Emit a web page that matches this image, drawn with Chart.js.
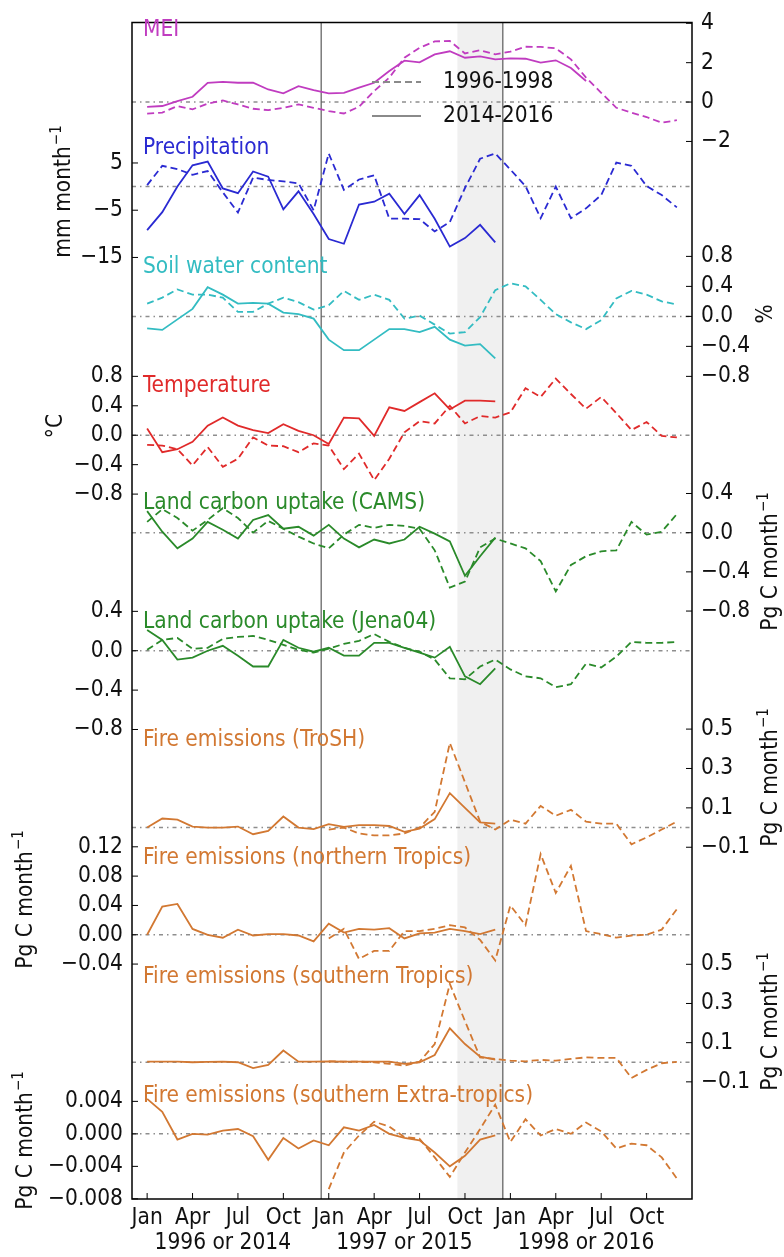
<!DOCTYPE html>
<html>
<head>
<meta charset="utf-8">
<script src="https://cdn.jsdelivr.net/npm/chart.js@4.4.1/dist/chart.umd.min.js"></script>
<style>html,body{margin:0;padding:0;background:#fff}</style>
</head>
<body>
<canvas id="chart" width="784" height="1257"></canvas>
<script>
// x axis: month index 0..35 (Jan of first year .. Dec of third year)
const xTickPos = [0, 3, 6, 9, 12, 15, 18, 21, 24, 27, 30, 33];
const xTickLabels = ['Jan', 'Apr', 'Jul', 'Oct', 'Jan', 'Apr', 'Jul', 'Oct', 'Jan', 'Apr', 'Jul', 'Oct'];
const yearLabels = ['1996 or 2014', '1997 or 2015', '1998 or 2016'];
const yearLabelPos = [5, 17, 29];
const yearBreaks = [11.5, 23.5];
const shadeFrom = 20.5, shadeTo = 23.5;
const _ = null;

// dashed = 1996-1998, solid = 2014-2016
const meiDashed = [-0.59, -0.54, -0.2, -0.37, -0.08, 0.08, -0.12, -0.34, -0.41, -0.29, -0.12, -0.29, -0.46, -0.58, -0.24, 0.56, 1.24, 2.25, 2.76, 3.08, 3.1, 2.47, 2.63, 2.42, 2.56, 2.81, 2.8, 2.73, 2.17, 1.24, 0.47, -0.29, -0.54, -0.76, -1.05, -0.92];
const meiSolid = [-0.24, -0.2, 0.05, 0.27, 0.98, 1.02, 0.98, 0.98, 0.64, 0.44, 0.81, 0.61, 0.44, 0.47, 0.73, 0.98, 1.58, 2.1, 2.02, 2.42, 2.58, 2.25, 2.32, 2.17, 2.22, 2.2, 2.0, 2.12, 1.73, 1.07];

const precipDashed = [0.3, 4.4, 3.7, 2.5, 3.3, -1.2, -5.5, 1.9, 1.4, 1.1, 0.7, -5.0, 7.0, -0.7, 1.5, 2.4, -6.8, -6.8, -6.9, -9.5, -7.5, -0.3, 5.9, 7.0, 3.6, 0.1, -6.7, 0.0, -6.7, -4.6, -1.8, 5.1, 4.4, 0.1, -1.8, -4.4];
const precipSolid = [-9.2, -5.4, 0.0, 4.5, 5.3, -0.4, -1.4, 3.2, 2.1, -4.8, -1.0, -5.8, -11.1, -12.1, -3.8, -3.2, -1.5, -5.8, -1.8, -6.8, -12.7, -10.9, -8.1, -11.8];

const soilDashed = [0.17, 0.25, 0.36, 0.29, 0.29, 0.25, 0.06, 0.06, 0.17, 0.25, 0.19, 0.09, 0.15, 0.34, 0.22, 0.29, 0.22, -0.03, 0.01, -0.11, -0.23, -0.21, -0.01, 0.35, 0.44, 0.4, 0.22, 0.03, -0.08, -0.17, -0.05, 0.24, 0.34, 0.29, 0.2, 0.16];
const soilSolid = [-0.16, -0.18, -0.04, 0.1, 0.39, 0.29, 0.17, 0.18, 0.17, 0.05, 0.03, -0.03, -0.31, -0.45, -0.45, -0.31, -0.17, -0.17, -0.21, -0.14, -0.31, -0.39, -0.37, -0.56];

const tempDashed = [-0.13, -0.14, -0.19, -0.41, -0.16, -0.43, -0.32, -0.03, -0.14, -0.15, -0.23, -0.11, -0.14, -0.46, -0.25, -0.61, -0.32, 0.04, 0.19, 0.16, 0.4, 0.16, 0.26, 0.24, 0.31, 0.64, 0.52, 0.77, 0.56, 0.36, 0.52, 0.3, 0.07, 0.18, -0.01, -0.03];
const tempSolid = [0.09, -0.23, -0.19, -0.09, 0.13, 0.24, 0.13, 0.07, 0.03, 0.15, 0.06, 0.0, -0.12, 0.24, 0.23, -0.01, 0.38, 0.33, 0.45, 0.57, 0.35, 0.47, 0.47, 0.46];

const camsDashed = [0.11, 0.24, 0.15, 0.02, 0.13, 0.25, 0.15, 0.0, 0.12, 0.04, -0.04, -0.11, -0.16, -0.02, 0.08, 0.05, 0.08, 0.07, 0.04, -0.18, -0.56, -0.5, -0.15, -0.06, -0.11, -0.16, -0.29, -0.6, -0.33, -0.24, -0.19, -0.18, 0.11, -0.02, 0.01, 0.19];
const camsSolid = [0.22, 0.01, -0.16, -0.06, 0.11, 0.03, -0.06, 0.13, 0.18, 0.04, 0.06, -0.03, 0.08, -0.06, -0.15, -0.07, -0.11, -0.07, 0.06, -0.01, -0.09, -0.44, -0.24, -0.05];

const jenaDashed = [0.01, 0.11, 0.13, 0.02, 0.03, 0.12, 0.14, 0.15, 0.11, 0.06, 0.01, -0.02, 0.02, 0.07, 0.1, 0.17, 0.09, 0.03, -0.01, -0.09, -0.28, -0.29, -0.16, -0.09, -0.19, -0.26, -0.28, -0.37, -0.34, -0.13, -0.17, -0.06, 0.09, 0.08, 0.08, 0.09];
const jenaSolid = [0.21, 0.11, -0.09, -0.07, 0.0, 0.05, -0.05, -0.16, -0.16, 0.11, 0.03, -0.01, 0.03, -0.05, -0.05, 0.08, 0.08, 0.03, -0.02, -0.07, 0.04, -0.26, -0.34, -0.18];

const troshDashed = [_, _, _, _, _, _, _, _, _, _, _, _, -0.01, 0.0, -0.03, -0.04, -0.04, -0.03, 0.0, 0.08, 0.43, 0.23, 0.03, -0.01, 0.04, 0.02, 0.11, 0.06, 0.09, 0.03, 0.02, 0.02, -0.085, -0.05, -0.01, 0.03];
const troshSolid = [0.0, 0.046, 0.04, 0.005, 0.0, 0.0, 0.005, -0.034, -0.017, 0.056, 0.0, -0.008, 0.017, 0.003, 0.012, 0.012, 0.008, -0.022, -0.005, 0.043, 0.175, 0.1, 0.026, 0.02];

const northDashed = [_, _, _, _, _, _, _, _, _, _, _, _, -0.005, 0.008, -0.033, -0.022, -0.022, 0.005, 0.005, 0.008, 0.013, 0.01, -0.007, -0.035, 0.04, 0.013, 0.11, 0.057, 0.094, 0.005, 0.001, -0.004, -0.001, 0.0, 0.007, 0.035];
const northSolid = [0.0, 0.0385, 0.042, 0.008, 0.0, -0.004, 0.007, -0.001, 0.001, 0.001, -0.001, -0.009, 0.015, 0.003, 0.008, 0.007, 0.009, -0.005, 0.002, 0.003, 0.008, 0.005, 0.001, 0.007];

const southDashed = [_, _, _, _, _, _, _, _, _, _, _, _, 0.005, 0.003, 0.003, 0.0, -0.008, -0.017, 0.003, 0.093, 0.4, 0.21, 0.025, 0.017, 0.008, 0.005, 0.012, 0.008, 0.017, 0.025, 0.022, 0.022, -0.08, -0.039, -0.005, 0.002];
const southSolid = [0.003, 0.003, 0.003, 0.0, 0.002, 0.003, 0.0, -0.03, -0.014, 0.06, 0.003, 0.003, 0.005, 0.003, 0.003, 0.003, 0.003, -0.008, 0.0, 0.037, 0.173, 0.093, 0.029, 0.014];

const extraDashed = [_, _, _, _, _, _, _, _, _, _, _, _, -0.0068, -0.0023, -0.0002, 0.0015, 0.0009, -0.0004, -0.0006, -0.0029, -0.0053, -0.0023, 0.0006, 0.0036, -0.001, 0.0018, -0.0002, 0.0006, 0.0, 0.0014, 0.0003, -0.0018, -0.0012, -0.0014, -0.0029, -0.0055];
const extraSolid = [0.0043, 0.0027, -0.0007, 0.0, -0.0001, 0.0004, 0.0006, -0.0003, -0.0032, -0.0005, -0.0018, -0.0008, -0.0014, 0.0008, 0.0004, 0.0011, 0.0, -0.0005, -0.0008, -0.0023, -0.004, -0.0027, -0.0007, -0.0002];

// tick values per panel axis
const meiTicks = [4, 2, 0, -2];
const precipTicks = [5, -5, -15];
const soilTicks = [0.8, 0.4, 0.0, -0.4, -0.8];
const tempTicks = [0.8, 0.4, 0.0, -0.4, -0.8];
const camsTicks = [0.4, 0.0, -0.4, -0.8];
const jenaTicks = [0.4, 0.0, -0.4, -0.8];
const troshTicks = [0.5, 0.3, 0.1, -0.1];
const northTicks = [0.12, 0.08, 0.04, 0.0, -0.04];
const southTicks = [0.5, 0.3, 0.1, -0.1];
const extraTicks = [0.004, 0.0, -0.004, -0.008];

const TOP = 16;
const FONT = "'DejaVu Sans Condensed', 'DejaVu Sans', sans-serif";
const FS = 22.5;

// each axis gets a vertical slice [top, bottom] of its side's stack;
// zero: pixel row of the 0 line, ppu: pixels per unit
const panels = [
  {id: 'yMEI', side: 'right', top: 16, bottom: 200, zero: 96, ppu: 19.8, ticks: meiTicks, dec: 0, color: '#c03cc0', label: 'MEI', labelY: 36, dashed: meiDashed, solid: meiSolid},
  {id: 'yPre', side: 'left', top: 16, bottom: 310, zero: 181, ppu: 4.75, ticks: precipTicks, dec: 0, color: '#2a2ad2', label: 'Precipitation', labelY: 154, dashed: precipDashed, solid: precipSolid,
    title: ['mm month', '\u22121'], titleX: 70, titleY: 192},
  {id: 'ySoil', side: 'right', top: 200, bottom: 440, zero: 311.5, ppu: 75.4, ticks: soilTicks, dec: 1, color: '#33bcc2', label: 'Soil water content', labelY: 273, dashed: soilDashed, solid: soilSolid,
    title: ['%', ''], titleX: 772, titleY: 314},
  {id: 'yTemp', side: 'left', top: 310, bottom: 545, zero: 431, ppu: 74, ticks: tempTicks, dec: 1, color: '#e02a2a', label: 'Temperature', labelY: 392, dashed: tempDashed, solid: tempSolid,
    title: ['\u00b0C', ''], titleX: 62, titleY: 426},
  {id: 'yCams', side: 'right', top: 440, bottom: 680, zero: 529, ppu: 98.5, ticks: camsTicks, dec: 1, color: '#2a8a2a', label: 'Land carbon uptake (CAMS)', labelY: 509, dashed: camsDashed, solid: camsSolid,
    title: ['Pg C month', '\u22121'], titleX: 777, titleY: 562},
  {id: 'yJena', side: 'left', top: 545, bottom: 790, zero: 647.7, ppu: 99, ticks: jenaTicks, dec: 1, color: '#2a8a2a', label: 'Land carbon uptake (Jena04)', labelY: 628, dashed: jenaDashed, solid: jenaSolid},
  {id: 'yTro', side: 'right', top: 680, bottom: 900, zero: 825.5, ppu: 198, ticks: troshTicks, dec: 1, color: '#d27832', label: 'Fire emissions (TroSH)', labelY: 746, dashed: troshDashed, solid: troshSolid,
    title: ['Pg C month', '\u22121'], titleX: 777, titleY: 778},
  {id: 'yNor', side: 'left', top: 790, bottom: 1000, zero: 933.3, ppu: 737, ticks: northTicks, dec: 2, color: '#d27832', label: 'Fire emissions (northern Tropics)', labelY: 864, dashed: northDashed, solid: northSolid,
    title: ['Pg C month', '\u22121'], titleX: 32, titleY: 900},
  {id: 'ySou', side: 'right', top: 900, bottom: 1199, zero: 1061.5, ppu: 197, ticks: southTicks, dec: 1, color: '#d27832', label: 'Fire emissions (southern Tropics)', labelY: 983, dashed: southDashed, solid: southSolid,
    title: ['Pg C month', '\u22121'], titleX: 777, titleY: 1022},
  {id: 'yExt', side: 'left', top: 1000, bottom: 1199, zero: 1133.5, ppu: 8170, ticks: extraTicks, dec: 3, color: '#d27832', label: 'Fire emissions (southern Extra-tropics)', labelY: 1102, dashed: extraDashed, solid: extraSolid,
    title: ['Pg C month', '\u22121'], titleX: 32, titleY: 1141}
];

const fmt = (v, dec) => (v < 0 ? '\u2212' : '') + Math.abs(v).toFixed(dec);
const toPoints = arr => arr.map((v, i) => ({x: i, y: v}));

const datasets = [];
const scales = {
  x: {
    type: 'linear', min: -1, max: 36,
    afterBuildTicks: s => { s.ticks = xTickPos.map(v => ({value: v})); },
    afterFit: s => { s.height = 58; },
    grid: {display: false, drawTicks: false},
    border: {display: false},
    ticks: {autoSkip: false, maxRotation: 0, padding: 6, color: '#111', font: {family: FONT, size: FS},
      callback: (v, i) => xTickLabels[i]}
  }
};

let leftOrder = 10, rightOrder = 0;
panels.forEach(p => {
  // left stack is sorted by descending weight, right stack by ascending weight (top first)
  const w = p.side === 'left' ? leftOrder-- : rightOrder++;
  scales[p.id] = {
    type: 'linear', position: p.side,
    stack: p.side, stackWeight: p.bottom - p.top, weight: w,
    max: (p.zero - p.top) / p.ppu,
    min: -(p.bottom - p.zero) / p.ppu,
    afterFit: s => { s.width = p.side === 'left' ? 132 : 92; },
    afterBuildTicks: s => { s.ticks = p.ticks.map(v => ({value: v})); },
    grid: {display: false, drawTicks: false},
    border: {display: false},
    ticks: {autoSkip: false, padding: 9, color: '#111', font: {family: FONT, size: FS},
      callback: v => fmt(v, p.dec)}
  };
  datasets.push({data: toPoints(p.dashed), yAxisID: p.id, borderColor: p.color, borderWidth: 1.8, borderDash: [7, 4], pointRadius: 0, tension: 0, fill: false});
  datasets.push({data: toPoints(p.solid), yAxisID: p.id, borderColor: p.color, borderWidth: 1.8, pointRadius: 0, tension: 0, fill: false});
});

function line(ctx, x1, y1, x2, y2) {
  ctx.beginPath(); ctx.moveTo(x1, y1); ctx.lineTo(x2, y2); ctx.stroke();
}

function rotatedTitle(ctx, parts, x, y) {
  ctx.save();
  ctx.translate(x, y);
  ctx.rotate(-Math.PI / 2);
  ctx.fillStyle = '#111';
  ctx.textBaseline = 'alphabetic';
  ctx.textAlign = 'left';
  ctx.font = FS + 'px ' + FONT;
  const w = ctx.measureText(parts[0]).width;
  ctx.font = '15px ' + FONT;
  const ws = parts[1] ? ctx.measureText(parts[1]).width : 0;
  const start = -(w + ws) / 2;
  ctx.font = FS + 'px ' + FONT;
  ctx.fillText(parts[0], start, 0);
  if (parts[1]) {
    ctx.font = '15px ' + FONT;
    ctx.fillText(parts[1], start + w + 1, -9);
  }
  ctx.restore();
}

const decorations = {
  id: 'decorations',
  beforeDatasetsDraw(chart) {
    const {ctx, chartArea: a, scales: sc} = chart;
    ctx.save();
    const s0 = sc.x.getPixelForValue(shadeFrom), s1 = sc.x.getPixelForValue(shadeTo);
    ctx.fillStyle = '#f0f0f0';
    ctx.fillRect(s0, a.top, s1 - s0, a.bottom - a.top);
    ctx.strokeStyle = '#8e8e8e';
    ctx.lineWidth = 1.5;
    ctx.setLineDash([4, 4, 1.5, 4]);
    panels.forEach(p => {
      const y = sc[p.id].getPixelForValue(0);
      line(ctx, a.left, y, a.right, y);
    });
    ctx.setLineDash([]);
    ctx.strokeStyle = '#666';
    ctx.lineWidth = 1.3;
    yearBreaks.forEach(v => {
      const x = sc.x.getPixelForValue(v);
      line(ctx, x, a.top, x, a.bottom);
    });
    ctx.restore();
  },
  afterDraw(chart) {
    const {ctx, chartArea: a, scales: sc} = chart;
    ctx.save();
    // frame
    ctx.strokeStyle = '#000';
    ctx.lineWidth = 1.5;
    ctx.strokeRect(a.left, a.top, a.right - a.left, a.bottom - a.top);
    // inward ticks
    ctx.lineWidth = 1;
    panels.forEach(p => {
      const x = p.side === 'left' ? a.left : a.right;
      const d = p.side === 'left' ? 6 : -6;
      p.ticks.forEach(v => {
        const y = sc[p.id].getPixelForValue(v);
        line(ctx, x, y, x + d, y);
      });
    });
    xTickPos.forEach(v => {
      const x = sc.x.getPixelForValue(v);
      line(ctx, x, a.bottom, x, a.bottom - 6);
    });
    // panel labels
    ctx.font = FS + 'px ' + FONT;
    ctx.textAlign = 'left';
    ctx.textBaseline = 'alphabetic';
    panels.forEach(p => {
      ctx.fillStyle = p.color;
      ctx.fillText(p.label, a.left + 11, p.labelY);
    });
    // axis titles
    panels.filter(p => p.title).forEach(p => rotatedTitle(ctx, p.title, p.titleX, p.titleY));
    // year labels under the month ticks
    ctx.font = FS + 'px ' + FONT;
    ctx.fillStyle = '#111';
    ctx.textAlign = 'center';
    ctx.textBaseline = 'middle';
    yearLabels.forEach((t, i) => ctx.fillText(t, sc.x.getPixelForValue(yearLabelPos[i]), 1243));
    // legend
    ctx.strokeStyle = '#8a8a8a';
    ctx.lineWidth = 1.8;
    ctx.setLineDash([7, 4]);
    line(ctx, 372, 82, 421, 82);
    ctx.setLineDash([]);
    line(ctx, 372, 116, 421, 116);
    ctx.fillStyle = '#111';
    ctx.textAlign = 'left';
    ctx.fillText('1996-1998', 443, 82);
    ctx.fillText('2014-2016', 443, 116);
    ctx.restore();
  }
};

new Chart(document.getElementById('chart'), {
  type: 'line',
  data: {datasets: datasets},
  options: {
    responsive: false,
    animation: false,
    spanGaps: false,
    layout: {padding: {left: 0, right: 0, top: TOP, bottom: 0}},
    plugins: {legend: {display: false}, tooltip: {enabled: false}},
    scales: scales
  },
  plugins: [decorations]
});
</script>
</body>
</html>
